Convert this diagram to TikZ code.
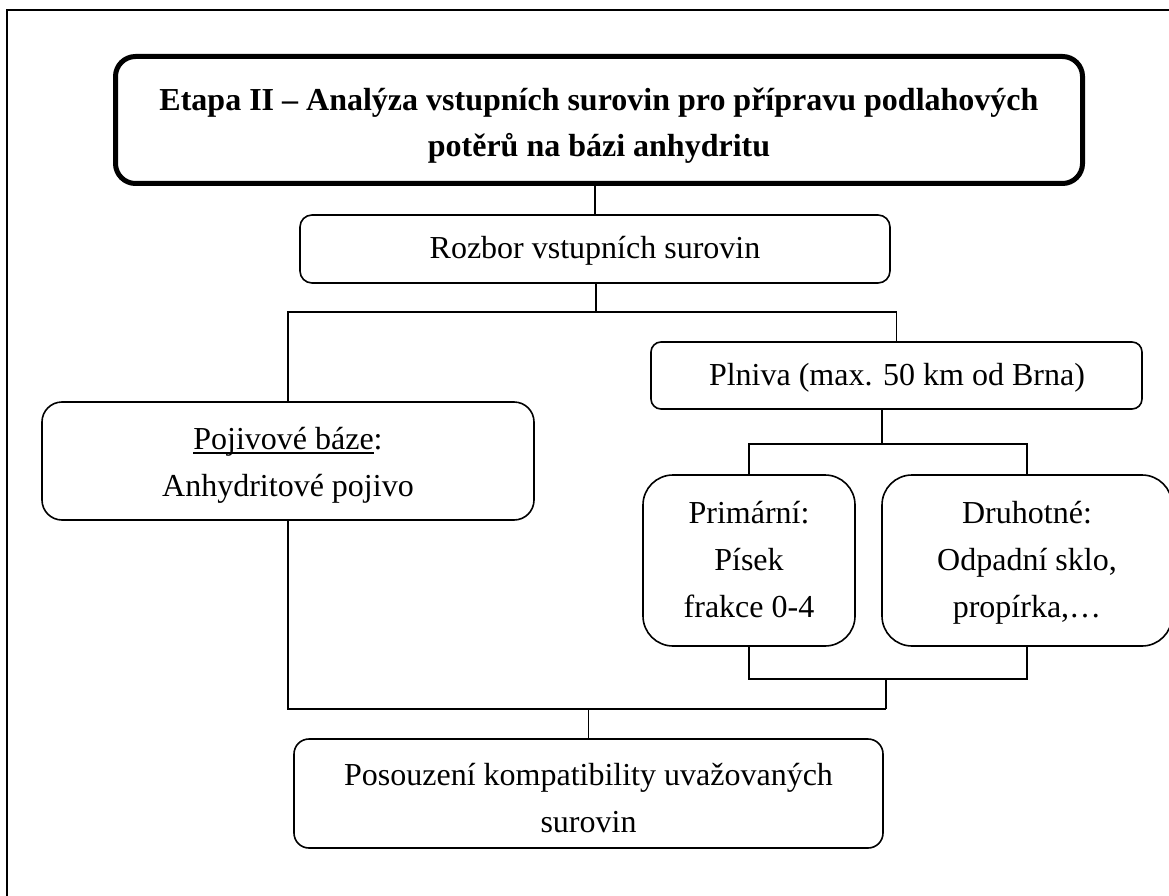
\documentclass[tikz,border=0pt]{standalone}
\usepackage{fontspec}
\setmainfont{Liberation Serif}
\newcommand\firstln{\rule{0pt}{26pt}}
\newcommand\myul[1]{\setbox0\hbox{#1}\rlap{\rule[-4.5pt]{\wd0}{1.5pt}}\box0}
\begin{document}
\begin{tikzpicture}[x=1pt,y=-1pt,
  box/.style={draw, line width=1.6pt, inner sep=0pt, rounded corners=#1},
  box/.default=12pt,
  txt/.style={inner sep=0pt, anchor=north, align=center, font=\fontsize{32}{47}\selectfont},
  conn/.style={line width=1.6pt}]
\useasboundingbox (0,0) rectangle (1169,896);
\fill[white] (0,0) rectangle (1169,896);
% frame
\draw[line width=2pt] (1169,10) -- (7,10) -- (7,896);
% boxes
\node[box=20pt, line width=5pt, minimum width=967pt, minimum height=127pt] (title) at (599,120) {};
\node[box=12pt, minimum width=590pt, minimum height=68pt] (rozbor) at (595,249) {};
\node[box=20pt, minimum width=492pt, minimum height=118pt] (pojivo) at (288,461) {};
\node[box=10pt, minimum width=491pt, minimum height=67pt] (plniva) at (896.5,375.5) {};
\node[box=30pt, minimum width=212pt, minimum height=171pt] (prim) at (749,560.5) {};
\node[box=30pt, minimum width=290pt, minimum height=171pt] (druh) at (1027,560.5) {};
\node[box=15pt, minimum width=589pt, minimum height=109pt] (posouz) at (588.5,793.5) {};
% texts
\node[txt, font=\fontsize{32}{46}\selectfont\bfseries] (titleT) at (599,84) {\firstln Etapa II – Analýza vstupních surovin pro přípravu podlahových\\potěrů na bázi anhydritu};
\node[txt] (rozborT) at (595,232) {\firstln Rozbor vstupních surovin};
\node[txt] (pojivoT) at (288,423) {\firstln\myul{Pojivové báze}:\\Anhydritové pojivo};
\node[txt] (plnivaT) at (897,359) {\firstln Plniva (max. 50 km od Brna)};
\node[txt] (primT) at (749,497) {\firstln Primární:\\Písek\\frakce 0-4};
\node[txt] (druhT) at (1027,497) {\firstln Druhotné:\\Odpadní sklo,\\propírka,…};
\node[txt] (posouzT) at (588.5,759) {\firstln Posouzení kompatibility uvažovaných\\surovin};
% junctions
\coordinate (j1) at (596,312);
\coordinate (j2) at (882,444);
\coordinate (j3) at (886,679);
\coordinate (j4) at (886,709);
% connectors
\draw[conn] (rozbor.north) -- (rozbor.north |- title.south);
\draw[conn] (rozbor.south -| j1) -- (j1);
\draw[conn] (pojivo.north) |- (j1) -| (plniva.north);
\draw[conn] (plniva.south -| j2) -- (j2);
\draw[conn] (prim.north) |- (j2) -| (druh.north);
\draw[conn] (prim.south) |- (j3) -| (druh.south);
\draw[conn] (j3) -- (j4);
\draw[conn] (pojivo.south) |- (j4);
\draw[conn] (posouz.north) -- (posouz.north |- j4);
\end{tikzpicture}
\end{document}
